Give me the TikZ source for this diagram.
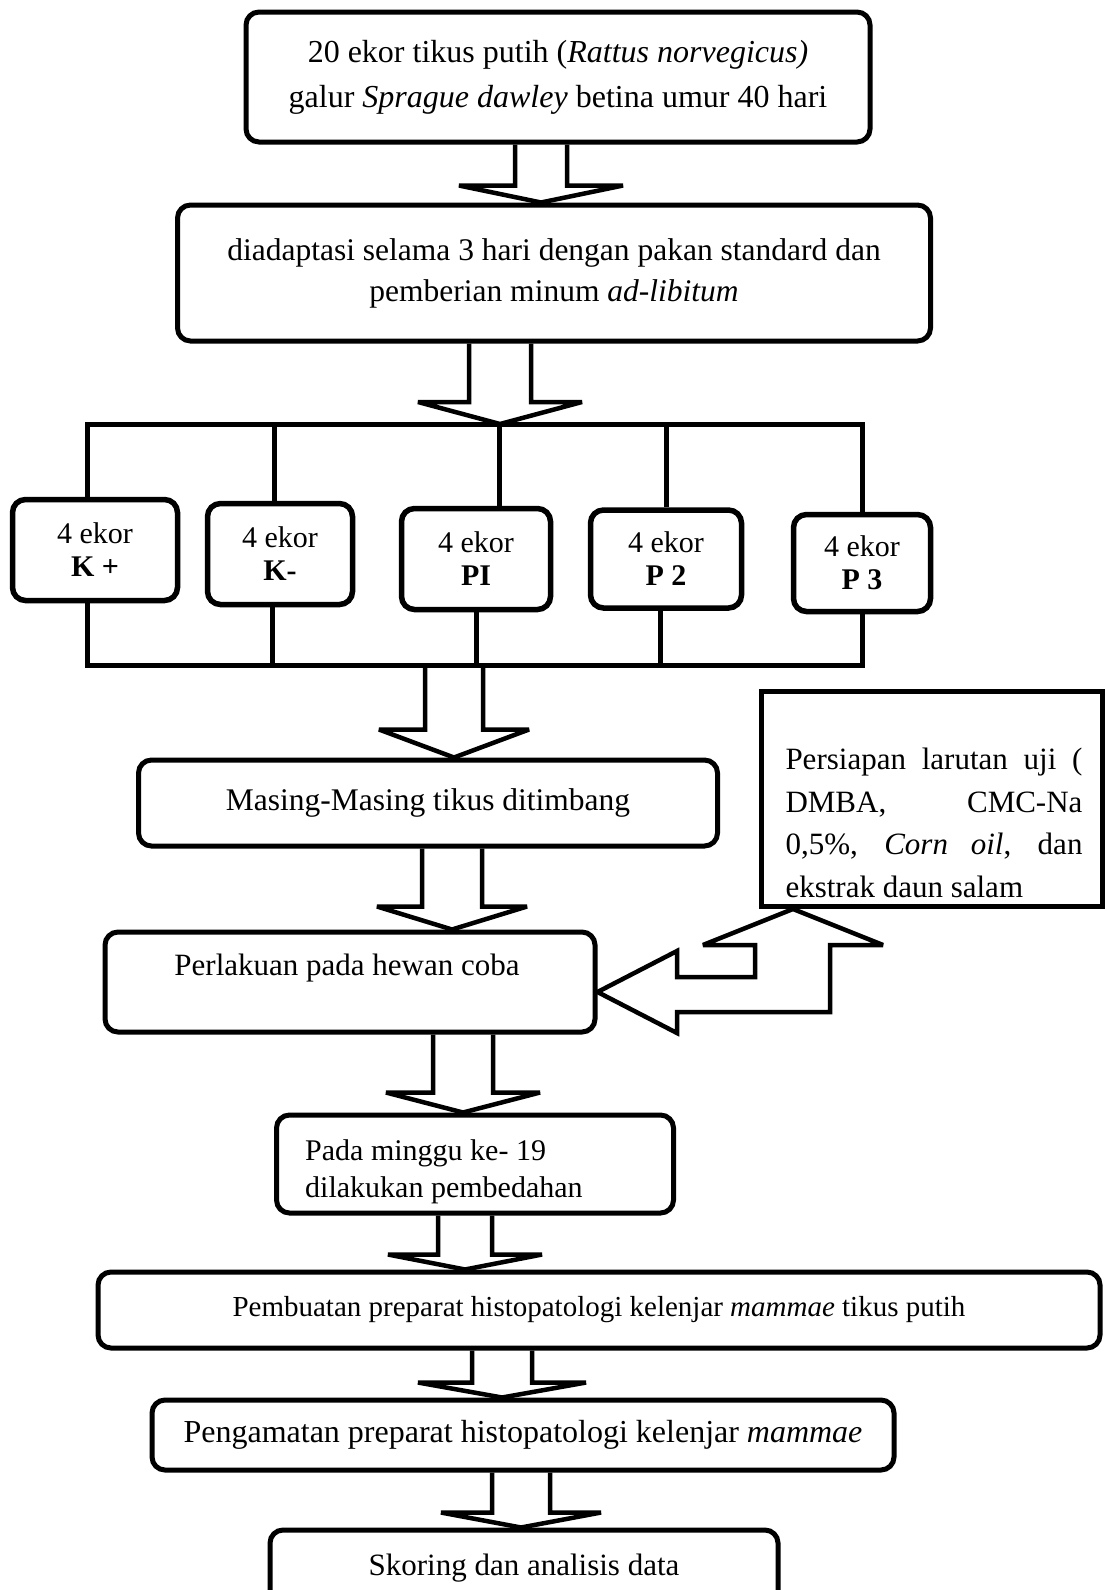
\documentclass[tikz,border=0pt]{standalone}
\usepackage{fontspec}
\setmainfont{Liberation Serif}
\usetikzlibrary{calc}

\tikzset{
  stepbox/.style={draw, line width=5pt, rounded corners=13pt, align=center, inner sep=0pt},
  groupbox/.style={draw, line width=5.5pt, rounded corners=13pt, align=center, inner sep=0pt, font=\fontsize{30}{33}\selectfont},
  sidebox/.style={draw, line width=5pt, inner sep=0pt},
  bus/.style={line width=5pt},
  hollow/.style={draw, line width=4.5pt, line join=miter, miter limit=2},
}

% fat hollow arrow: from, to, x, half shaft, half head, head length
\newcommand\fatdown[6]{%
  \coordinate (fx) at (#3,0);
  \draw[hollow] ($(fx |- #1)+(-#4,0)$) -- ($(fx |- #2)+(-#4,-#6)$)
    -- ($(fx |- #2)+(-#5,-#6)$) -- (fx |- #2)
    -- ($(fx |- #2)+(#5,-#6)$) -- ($(fx |- #2)+(#4,-#6)$)
    -- ($(fx |- #1)+(#4,0)$);
}

\begin{document}
\begin{tikzpicture}[x=1pt,y=-1pt]
        \useasboundingbox (0,0) rectangle (1107,1590);
        \clip (0,0) rectangle (1107,1590);

        % start
        \node[stepbox, minimum width=624pt, minimum height=130pt, font=\fontsize{32}{45}\selectfont] (tikus) at (558,77)
            {20 ekor tikus putih (\textit{Rattus norvegicus)}\\galur \textit{Sprague dawley} betina umur 40 hari};
        \node[stepbox, minimum width=753pt, minimum height=136pt, font=\fontsize{31.5}{41}\selectfont] (adapt) at (554,273)
            {diadaptasi selama 3 hari dengan pakan standard dan\\pemberian minum \textit{ad-libitum}};

        % groups
        \node[groupbox, minimum width=165pt, minimum height=101pt] (kplus) at (95,550) {4 ekor\\\textbf{K +}};
        \node[groupbox, minimum width=145pt, minimum height=101pt] (kmin) at (280,554) {4 ekor\\\textbf{K-}};
        \node[groupbox, minimum width=149pt, minimum height=101pt] (pone) at (476,559) {4 ekor\\\textbf{PI}};
        \node[groupbox, minimum width=151pt, minimum height=98pt] (ptwo) at (666,559) {4 ekor\\\textbf{P 2}};
        \node[groupbox, minimum width=137pt, minimum height=97pt] (pthree) at (862,563) {4 ekor\\\textbf{P 3}};

        \coordinate (busT) at (500,424);
        \coordinate (busB) at (470,665);
        \draw[bus] ([xshift=-8pt]kplus.north) |- (busT -| pthree.north) -- (pthree.north);
        \draw[bus] ([xshift=-6pt]kmin.north) -- ([xshift=-6pt]kmin.north |- busT);
        \draw[bus] ([xshift=23pt]pone.north) -- ([xshift=23pt]pone.north |- busT);
        \draw[bus] (ptwo.north) -- (ptwo.north |- busT);

        \draw[bus] ([xshift=-8pt]kplus.south) |- (busB -| pthree.south) -- (pthree.south);
        \draw[bus] ([xshift=-8pt]kmin.south) -- ([xshift=-8pt]kmin.south |- busB);
        \draw[bus] (pone.south) -- (pone.south |- busB);
        \draw[bus] ([xshift=-6pt]ptwo.south) -- ([xshift=-6pt]ptwo.south |- busB);

        % treatment
        \node[stepbox, minimum width=579pt, minimum height=86pt, font=\fontsize{31.5}{36}\selectfont] (masing) at (428,803)
            {Masing-Masing tikus ditimbang};
        \node[sidebox, minimum width=341pt, minimum height=215pt] (prep) at (932,799) {};
        \node[font=\fontsize{31}{42.5}\selectfont, align=left, inner sep=0pt] (preptxt) at (934,823)
            {\makebox[297pt][s]{Persiapan larutan uji (}\\\makebox[297pt][s]{DMBA, CMC-Na}\\
             \makebox[297pt][s]{0,5\%, \textit{Corn oil}, dan}\\ekstrak daun salam};
        \node[stepbox, minimum width=490pt, minimum height=100pt] (perl) at (350,982) {};
        \node[font=\fontsize{31}{36}\selectfont] (perltxt) at (347,968) {Perlakuan pada hewan coba};

        \coordinate (upx) at (793,0);
        \coordinate (ltx) at (0,992);
        \draw[hollow] (upx |- prep.south) -- (883,945) -- (830,945) -- (830,1012) -- (677,1012) -- (677,1033)
            -- (perl.east |- ltx) -- (677,951) -- (677,977) -- (755,977) -- (755,945) -- (703,945) -- cycle;

        % results
        \node[stepbox, minimum width=397pt, minimum height=98pt] (pada) at (475,1164) {};
        \node[font=\fontsize{30}{37}\selectfont, align=left, anchor=west, inner sep=0pt] (padatxt) at (305,1172)
            {Pada minggu ke- 19\\dilakukan pembedahan};
        \node[stepbox, minimum width=1002pt, minimum height=76pt, font=\fontsize{29}{34}\selectfont] (buat) at (599,1310)
            {Pembuatan preparat histopatologi kelenjar \textit{mammae} tikus putih};
        \node[stepbox, minimum width=742pt, minimum height=70pt, font=\fontsize{32}{36}\selectfont] (amat) at (523,1435)
            {Pengamatan preparat histopatologi kelenjar \textit{mammae}};
        \node[stepbox, minimum width=508pt, minimum height=76pt, font=\fontsize{31}{36}\selectfont] (skor) at (524,1568)
            {Skoring dan analisis data};

        % arrows
        \fatdown{tikus.south}{adapt.north}{541}{26}{82}{17}
        \fatdown{adapt.south}{busT}{500}{31}{82}{22}
        \fatdown{busB}{masing.north}{454}{29}{75}{28}
        \fatdown{masing.south}{perl.north}{452}{30}{75}{23}
        \fatdown{perl.south}{pada.north}{463}{30}{77}{20}
        \fatdown{pada.south}{buat.north}{465}{27}{77}{15}
        \fatdown{buat.south}{amat.north}{502}{30}{84}{15}
        \fatdown{amat.south}{skor.north}{521}{29}{80}{15}

    \end{tikzpicture}
\end{document}
